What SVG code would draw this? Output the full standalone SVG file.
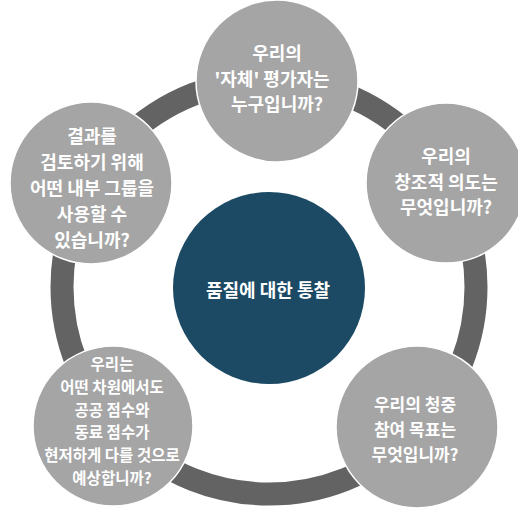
<svg xmlns="http://www.w3.org/2000/svg" width="518" height="508" viewBox="0 0 518 508">
<style>
.node{fill:#a5a5a5;stroke:#ffffff;stroke-width:1.5}
.hub{fill:#1c4a64}
.t{font-family:"Noto Sans CJK KR","Noto Sans",sans-serif;font-weight:700;fill:#ffffff;text-anchor:middle;font-size:18px}
.s{font-size:15.5px}
.m{font-size:17px}
.ring{fill:none;stroke:#636363;stroke-width:23}
</style>
<rect width="518" height="508" fill="#ffffff"/>
<g id="connectors">
<circle class="ring" cx="269" cy="287" r="207"/>
</g>
<g id="hub">
<circle class="hub" cx="269" cy="288" r="96"/>
<text class="t" x="268" y="297">품질에 대한 통찰</text>
</g>
<g id="node-top">
<circle class="node" cx="277" cy="81" r="81"/>
<text class="t" x="277" y="60">우리의</text>
<text class="t" x="272" y="86">'자체' 평가자는</text>
<text class="t" x="277" y="111">누구입니까?</text>
</g>
<g id="node-right">
<circle class="node" cx="446" cy="183" r="80"/>
<text class="t" x="446" y="163">우리의</text>
<text class="t" x="446" y="189">창조적 의도는</text>
<text class="t" x="446" y="214">무엇입니까?</text>
</g>
<g id="node-lower-right">
<circle class="node" cx="417" cy="427" r="81"/>
<text class="t m" x="415" y="411">우리의 청중</text>
<text class="t m" x="415" y="436">참여 목표는</text>
<text class="t m" x="415" y="461">무엇입니까?</text>
</g>
<g id="node-lower-left">
<circle class="node" cx="113" cy="426" r="80"/>
<text class="t s" x="112" y="370">우리는</text>
<text class="t s" x="112" y="393">어떤 차원에서도</text>
<text class="t s" x="112" y="416">공공 점수와</text>
<text class="t s" x="112" y="438">동료 점수가</text>
<text class="t s" x="112" y="461">현저하게 다를 것으로</text>
<text class="t s" x="112" y="484">예상합니까?</text>
</g>
<g id="node-upper-left">
<circle class="node" cx="91" cy="183" r="81"/>
<text class="t" x="92" y="143">결과를</text>
<text class="t" x="92" y="169">검토하기 위해</text>
<text class="t" x="92" y="195">어떤 내부 그룹을</text>
<text class="t" x="92" y="221">사용할 수</text>
<text class="t" x="92" y="247">있습니까?</text>
</g>
</svg>
